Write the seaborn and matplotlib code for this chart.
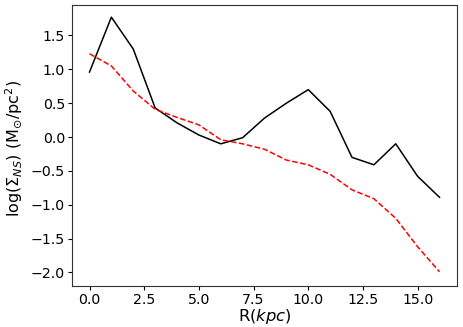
import matplotlib
matplotlib.use("Agg")
import matplotlib.pyplot as plt
import seaborn as sns
import pandas as pd

r = list(range(17))
black_vals = [0.96, 1.77, 1.30, 0.43, 0.21, 0.03, -0.10, -0.01, 0.28, 0.50, 0.70, 0.38, -0.30, -0.41, -0.10, -0.58, -0.89]
red_vals = [1.23, 1.05, 0.68, 0.41, 0.29, 0.18, -0.04, -0.10, -0.18, -0.34, -0.41, -0.55, -0.78, -0.91, -1.20, -1.62, -1.99]

df = pd.DataFrame({"R": r, "black": black_vals, "red": red_vals})

fig = plt.figure(figsize=(4.63, 3.27), dpi=100)
ax = fig.add_axes([72/463, 1 - 286/327, (457-72)/463, (286-5)/327])

sns.lineplot(data=df, x="R", y="black", ax=ax, color="black", linewidth=1.1)
sns.lineplot(data=df, x="R", y="red", ax=ax, color="red", linestyle="--", linewidth=1.1)

ax.set_xlim(-0.8, 16.8)
ax.set_ylim(-2.2, 1.95)
ax.set_xticks([0, 2.5, 5, 7.5, 10, 12.5, 15])
ax.set_yticks([-2.0, -1.5, -1.0, -0.5, 0.0, 0.5, 1.0, 1.5])
ax.tick_params(labelsize=10.2, length=3, pad=2)
for s in ax.spines.values():
    s.set_linewidth(0.8)
    s.set_color("#333333")
ax.set_xlabel(r"R($kpc$)", fontsize=11.8)
ax.set_ylabel(r"log($\Sigma_{NS}$) (M$_{\odot}$/pc$^2$)", fontsize=11.5)
ax.xaxis.set_label_coords(0.5, -0.076)
ax.yaxis.set_label_coords(-0.122, 0.49)

fig.savefig("out.png", dpi=100)
